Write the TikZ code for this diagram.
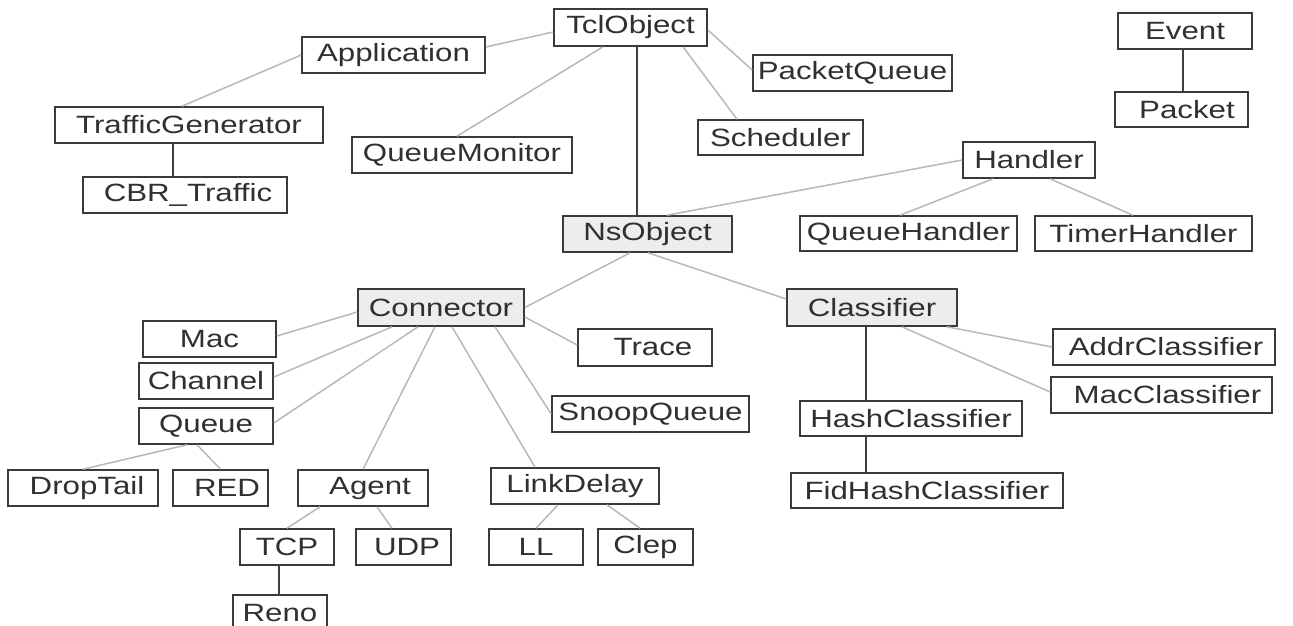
\documentclass[tikz,border=0pt]{standalone}
\usepackage{fontspec}
\setmainfont[FakeStretch=1.25]{Liberation Sans}
\usetikzlibrary{calc}
\definecolor{boxline}{HTML}{3A3A3A}
\definecolor{textc}{HTML}{303030}
\definecolor{basefill}{HTML}{EDEDED}
\definecolor{thin}{HTML}{B8B8B8}
\definecolor{thick}{HTML}{404040}
\begin{document}
\begin{tikzpicture}[x=1pt,y=-1pt,
  cbox/.style={draw=boxline, line width=1.6pt, inner sep=0pt, fill=white,
    font=\fontsize{25}{30}\selectfont, text=textc},
  gbox/.style={cbox, fill=basefill},
  light/.style={draw=thin, line width=1.5pt},
  dark/.style={draw=thick, line width=1.6pt}]
\useasboundingbox (0,0) rectangle (1293,625);

% nodes
\node[cbox, minimum width=153pt, minimum height=37pt] (tcl) at (630.5,27.5) {TclObject};
\node[cbox, minimum width=183pt, minimum height=36pt] (app) at (393.5,55) {Application};
\node[cbox, minimum width=268pt, minimum height=36pt] (tg) at (189,125) {TrafficGenerator};
\node[cbox, minimum width=204pt, minimum height=36pt] (cbr) at (185,195) {\hspace{6pt}CBR\_Traffic};
\node[cbox, minimum width=220pt, minimum height=36pt] (qm) at (462,155) {QueueMonitor};
\node[cbox, minimum width=199pt, minimum height=36pt] (pq) at (852.5,73) {PacketQueue};
\node[cbox, minimum width=165pt, minimum height=35pt] (sched) at (780.5,137.5) {Scheduler};
\node[cbox, minimum width=134pt, minimum height=36pt] (event) at (1185,31) {Event};
\node[cbox, minimum width=133pt, minimum height=35pt] (packet) at (1181.5,109.5) {\hspace{11pt}Packet};
\node[cbox, minimum width=132pt, minimum height=36pt] (handler) at (1029,160) {Handler};
\node[cbox, minimum width=217pt, minimum height=35pt] (qh) at (908.5,233.5) {QueueHandler};
\node[cbox, minimum width=217pt, minimum height=35pt] (th) at (1143.5,233.5) {TimerHandler};
\node[gbox, minimum width=169pt, minimum height=36pt] (ns) at (647.5,234) {NsObject};
\node[gbox, minimum width=166pt, minimum height=37pt] (conn) at (441,307.5) {Connector};
\node[gbox, minimum width=170pt, minimum height=37pt] (cls) at (872,307.5) {Classifier};
\node[cbox, minimum width=133pt, minimum height=36pt] (mac) at (209.5,339) {Mac};
\node[cbox, minimum width=134pt, minimum height=37pt] (trace) at (645,347.5) {\hspace{16pt}Trace};
\node[cbox, minimum width=134pt, minimum height=36pt] (channel) at (206,381) {Channel};
\node[cbox, minimum width=222pt, minimum height=36pt] (addr) at (1164,347) {\hspace{4pt}AddrClassifier};
\node[cbox, minimum width=221pt, minimum height=36pt] (maccls) at (1161.5,395) {\hspace{12pt}MacClassifier};
\node[cbox, minimum width=197pt, minimum height=36pt] (snoop) at (650.5,414) {SnoopQueue};
\node[cbox, minimum width=222pt, minimum height=35pt] (hash) at (911,418.5) {HashClassifier};
\node[cbox, minimum width=134pt, minimum height=36pt] (queue) at (206,426) {Queue};
\node[cbox, minimum width=150pt, minimum height=36pt] (dt) at (83,488) {\hspace{8pt}DropTail};
\node[cbox, minimum width=95pt, minimum height=36pt] (red) at (220.5,488) {\hspace{13pt}RED};
\node[cbox, minimum width=130pt, minimum height=36pt] (agent) at (363,488) {\hspace{14pt}Agent};
\node[cbox, minimum width=168pt, minimum height=36pt] (ld) at (575,486) {LinkDelay};
\node[cbox, minimum width=272pt, minimum height=35pt] (fid) at (927,490.5) {FidHashClassifier};
\node[cbox, minimum width=94pt, minimum height=36pt] (tcp) at (287,547) {TCP};
\node[cbox, minimum width=95pt, minimum height=36pt] (udp) at (403.5,547) {\hspace{7pt}UDP};
\node[cbox, minimum width=94pt, minimum height=36pt] (ll) at (536,547) {LL};
\node[cbox, minimum width=95pt, minimum height=36pt] (clep) at (645.5,547) {Clep};
\node[cbox, minimum width=94pt, minimum height=36pt] (reno) at (280,613) {Reno};

% light connectors
\draw[light] ([xshift=-7pt]tg.north) -- (app.west);
\draw[light] ([yshift=8pt]app.east) -- ([yshift=-4.5pt]tcl.west);
\draw[light] ([xshift=-27.5pt]tcl.south) -- ([xshift=-5pt]qm.north);
\draw[light] ([xshift=52.5pt]tcl.south) -- ([xshift=-43.5pt]sched.north);
\draw[light] ([yshift=-2.5pt]tcl.east) -- ([yshift=3pt]pq.west);
\draw[light] (handler.west) -- ([xshift=19.5pt]ns.north);
\draw[light] ([xshift=-36pt]handler.south) -- ([xshift=-8.5pt]qh.north);
\draw[light] ([xshift=21pt]handler.south) -- ([xshift=-10.5pt]th.north);
\draw[light] ([xshift=-17.5pt]ns.south) -- (conn.east);
\draw[light] ([xshift=0.5pt]ns.south) -- ([yshift=8.5pt]cls.west);
\draw[light] ([yshift=-9.5pt]conn.east) -- ([yshift=2.5pt]trace.west);
\draw[light] ([xshift=54pt]conn.south) -- (snoop.west);
\draw[light] ([xshift=11pt]conn.south) -- ([xshift=-40pt]ld.north);
\draw[light] ([xshift=-6pt]conn.south) -- (agent.north);
\draw[light] ([yshift=-4.5pt]conn.west) -- ([yshift=3pt]mac.east);
\draw[light] ([xshift=-49pt]conn.south) -- ([yshift=4pt]channel.east);
\draw[light] ([xshift=-23pt]conn.south) -- ([yshift=3pt]queue.east);
\draw[light] ([xshift=-19pt]queue.south) -- (dt.north);
\draw[light] ([xshift=-9pt]queue.south) -- (red.north);
\draw[light] ([xshift=-43pt]agent.south) -- (tcp.north);
\draw[light] ([xshift=14pt]agent.south) -- ([xshift=-11.5pt]udp.north);
\draw[light] ([xshift=-17pt]ld.south) -- (ll.north);
\draw[light] ([xshift=32pt]ld.south) -- ([xshift=-5.5pt]clep.north);
\draw[light] ([xshift=75pt]cls.south) -- (addr.west);
\draw[light] ([xshift=30pt]cls.south) -- ([yshift=3pt]maccls.west);

% dark connectors
\draw[dark] ([xshift=6.5pt]tcl.south) -- ([xshift=-10.5pt]ns.north);
\draw[dark] ([xshift=-16pt]tg.south) -- ([xshift=-12pt]cbr.north);
\draw[dark] ([xshift=-2pt]event.south) -- ([xshift=1.5pt]packet.north);
\draw[dark] ([xshift=-8pt]tcp.south) -- ([xshift=-1pt]reno.north);
\draw[dark] ([xshift=-6pt]cls.south) -- ([xshift=-45pt]hash.north);
\draw[dark] ([xshift=-45pt]hash.south) -- ([xshift=-61pt]fid.north);
\end{tikzpicture}
\end{document}
